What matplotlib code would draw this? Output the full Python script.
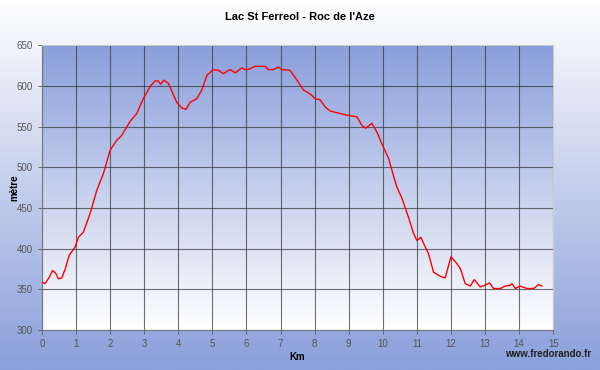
import numpy as np
import matplotlib
matplotlib.use("Agg")
import matplotlib.pyplot as plt
from matplotlib.colors import LinearSegmentedColormap

plt.rcParams["font.family"] = ["Liberation Sans", "DejaVu Sans"]

# Profil altimetrique (km, metres)
km = [0.0, 0.09, 0.20, 0.31, 0.40, 0.48, 0.58, 0.68, 0.80, 0.97, 1.07, 1.21,
      1.41, 1.61, 1.80, 2.00, 2.19, 2.34, 2.58, 2.78, 2.97, 3.17, 3.32, 3.41,
      3.48, 3.58, 3.71, 3.95, 4.10, 4.22, 4.35, 4.54, 4.69, 4.84, 5.03, 5.18,
      5.32, 5.52, 5.67, 5.86, 5.96, 6.05, 6.25, 6.55, 6.64, 6.79, 6.94, 7.04,
      7.28, 7.48, 7.67, 7.87, 8.02, 8.16, 8.31, 8.46, 8.75, 8.95, 9.24, 9.39,
      9.50, 9.68, 9.83, 9.97, 10.17, 10.27, 10.41, 10.56, 10.75, 10.90, 11.00,
      11.12, 11.20, 11.34, 11.49, 11.69, 11.83, 12.00, 12.13, 12.27, 12.42,
      12.57, 12.68, 12.86, 13.00, 13.13, 13.25, 13.45, 13.59, 13.74, 13.79,
      13.89, 14.03, 14.23, 14.43, 14.57, 14.67]
alt = [359, 357, 364, 373, 370, 363, 364, 375, 392, 402, 414, 420,
       443, 472, 492, 521, 533, 539, 556, 566, 584, 599, 606, 606,
       602, 607, 603, 580, 573, 571, 580, 584, 595, 613, 620, 619,
       615, 620, 616, 622, 620, 620, 624, 624, 620, 620, 623, 620,
       619, 607, 595, 590, 584, 583, 574, 569, 566, 564, 562, 551,
       548, 554, 543, 529, 511, 496, 476, 462, 439, 419, 410,
       414, 406, 394, 371, 366, 364, 390, 384, 376, 357,
       354, 362, 353, 355, 358, 351, 351, 354, 355, 357,
       351, 354, 351, 351, 356, 354]

xticks = list(range(0, 16))
yticks = list(range(300, 651, 50))

blue = "#8a9fdb"

fig = plt.figure(figsize=(6, 3.7), dpi=100)

# fond de la figure : blanc en haut, bleu en bas
bg = fig.add_axes([0, 0, 1, 1], zorder=-10)
cmap_fig = LinearSegmentedColormap.from_list("fig", ["white", blue])
bg.imshow(np.linspace(0, 1, 256).reshape(-1, 1), aspect="auto", cmap=cmap_fig,
          extent=[0, 1, 0, 1])
bg.axis("off")

ax = fig.add_axes([0.07, 0.108, 0.852, 0.770])
cmap_ax = LinearSegmentedColormap.from_list("ax", [blue, "white"])
ax.imshow(np.linspace(0, 1, 256).reshape(-1, 1), aspect="auto", cmap=cmap_ax,
          extent=[0, 15, 300, 650], zorder=0)

ax.plot(km, alt, color="red", lw=1.0, zorder=3)

ax.set_xlim(0, 15)
ax.set_ylim(300, 650)
ax.set_xticks(xticks)
ax.set_yticks(yticks)
ax.grid(True, color="#333333", lw=0.8, alpha=0.7)
for l in ax.get_xgridlines() + ax.get_ygridlines():
    l.set_zorder(1)

ax.tick_params(labelsize=7, colors="#555555", length=3, width=0.6)
for s in ["top", "right"]:
    ax.spines[s].set_color("#cccccc")
for s in ["left", "bottom"]:
    ax.spines[s].set_color("#777777")

ax.set_xlabel("Km", fontsize=7, fontweight="bold", labelpad=2)
ax.set_ylabel("mètre", fontsize=7, fontweight="bold")
ax.yaxis.set_label_coords(-0.045, 0.5)

fig.text(0.5, 0.955, "Lac St Ferreol - Roc de l'Aze", ha="center", va="center",
         fontsize=8, fontweight="bold")
fig.text(0.985, 0.043, "www.fredorando.fr", ha="right", va="center",
         fontsize=7, fontweight="bold", color="#222222")

fig.savefig("out.png", dpi=100)
